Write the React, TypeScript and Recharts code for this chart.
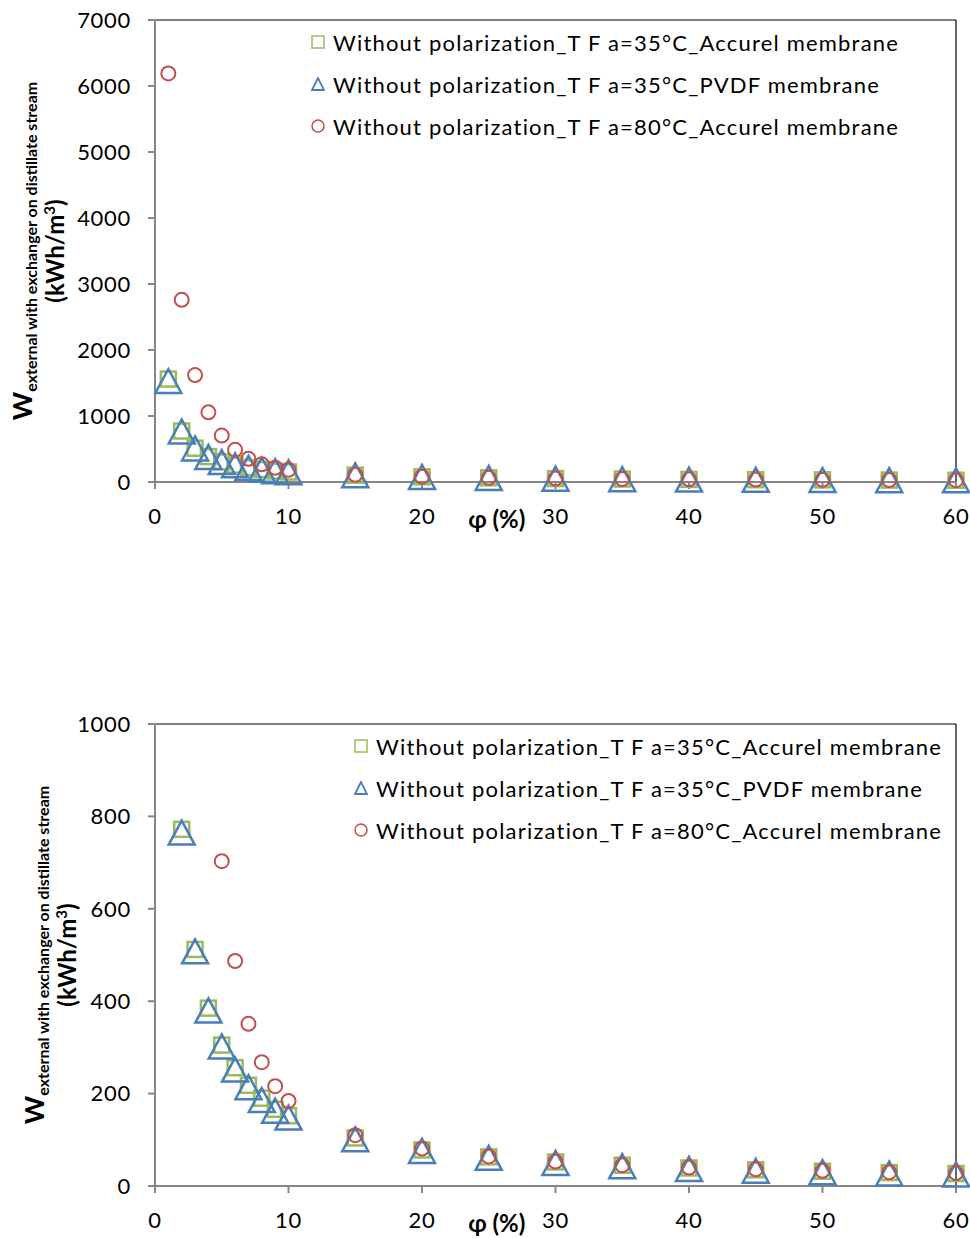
import { Legend, ReferenceLine, Scatter, ScatterChart, XAxis, YAxis } from "recharts";

const phi = [1, 2, 3, 4, 5, 6, 7, 8, 9, 10, 15, 20, 25, 30, 35, 40, 45, 50, 55, 60];
const accurel35 = [1560, 772, 512, 385, 305, 256, 218, 190, 166, 152, 104, 78, 63, 52, 45, 39, 35, 32, 29, 27];
const pvdf35 = [1530, 765, 508, 380, 302, 252, 214, 186, 163, 148, 101, 76, 61, 50, 43, 37, 33, 30, 27, 25];
const accurel80 = [6190, 2760, 1620, 1055, 703, 487, 351, 268, 216, 184, 110, 81, 64, 53, 45, 40, 36, 33, 30, 28];

const xTicks = [0, 10, 20, 30, 40, 50, 60];
const yTicksTop = [0, 1000, 2000, 3000, 4000, 5000, 6000, 7000];
const yTicksBottom = [0, 200, 400, 600, 800, 1000];

const seriesNames = [
  "Without polarization_T F a=35°C_Accurel membrane",
  "Without polarization_T F a=35°C_PVDF membrane",
  "Without polarization_T F a=80°C_Accurel membrane",
];

const FONT = "Lato, 'Open Sans', sans-serif";
const GREEN = "#9BBB59";
const BLUE = "#4A7EBB";
const RED = "#C0504D";
const AXIS = "#868686";

const toPoints = (vals: number[], max: number) =>
  phi.map((x, i) => ({ x, y: vals[i] })).filter((d) => d.y <= max);

const Square = (p: any) => (
  <rect x={p.cx - 7.5} y={p.cy - 7.5} width={15} height={15} fill="none" stroke={GREEN} strokeWidth={2.5} />
);
const Triangle = (p: any) => (
  <polygon
    points={`${p.cx},${p.cy - 12} ${p.cx - 13},${p.cy + 12} ${p.cx + 13},${p.cy + 12}`}
    fill="none"
    stroke={BLUE}
    strokeWidth={2.5}
  />
);
const Circle = (p: any) => <circle cx={p.cx} cy={p.cy} r={7} fill="none" stroke={RED} strokeWidth={2} />;

function LegendBox() {
  const icons = [
    <rect x={1} y={1} width={12} height={12} fill="none" stroke={GREEN} strokeWidth={1.5} />,
    <polygon points="7,1 1,13 13,13" fill="none" stroke={BLUE} strokeWidth={1.8} />,
    <circle cx={7} cy={7} r={6} fill="none" stroke={RED} strokeWidth={1.5} />,
  ];
  return (
    <div style={{ fontFamily: FONT, fontSize: 22, letterSpacing: 1.2, color: "#000" }}>
      {seriesNames.map((name, i) => (
        <div key={name} style={{ height: 42, display: "flex", alignItems: "center", whiteSpace: "nowrap" }}>
          <svg width={14} height={14} style={{ marginRight: 8 }}>
            {icons[i]}
          </svg>
          <span>{name}</span>
        </div>
      ))}
    </div>
  );
}

function YLabel({ viewBox, x1, x2 }: any) {
  const cy = viewBox.y + viewBox.height / 2;
  return (
    <g fontFamily={FONT} fontWeight="bold" fill="#000">
      <text x={x1} y={cy} textAnchor="middle" transform={`rotate(-90, ${x1}, ${cy})`}>
        <tspan fontSize={27}>W</tspan>
        <tspan fontSize={16} dy={5}>
          external with exchanger on distillate stream
        </tspan>
      </text>
      <text x={x2} y={cy} textAnchor="middle" fontSize={24} transform={`rotate(-90, ${x2}, ${cy})`}>
        <tspan>(kWh/m</tspan>
        <tspan fontSize={15} dy={-9}>
          3
        </tspan>
        <tspan dy={9}>)</tspan>
      </text>
    </g>
  );
}

function XLabel({ viewBox }: any) {
  const x = viewBox.x + (viewBox.width * 25.6) / 60;
  return (
    <text x={x} y={viewBox.y + 46} textAnchor="middle" fontFamily={FONT} fontWeight="bold" fontSize={24} fill="#000">
      φ (%)
    </text>
  );
}

function Panel({
  yMax,
  yTicks,
  top,
  bottom,
  legendTop,
  legendLeft,
  labelX1,
  labelX2,
}: {
  yMax: number;
  yTicks: number[];
  top: number;
  bottom: number;
  legendTop: number;
  legendLeft: number;
  labelX1: number;
  labelX2: number;
}) {
  const tick = { fontFamily: FONT, fontSize: 22, letterSpacing: 0.7, fill: "#000" };
  return (
    <ScatterChart width={970} height={619} margin={{ top, right: 14, bottom, left: 55 }}>
      <XAxis
        type="number"
        dataKey="x"
        domain={[0, 60]}
        ticks={xTicks}
        allowDecimals={false}
        height={40}
        tick={tick}
        tickSize={7}
        tickMargin={19}
        stroke={AXIS}
        strokeWidth={2}
        label={{ content: (props: any) => <XLabel {...props} /> }}
      />
      <YAxis
        type="number"
        dataKey="y"
        domain={[0, yMax]}
        ticks={yTicks}
        width={100}
        tick={tick}
        tickSize={7}
        tickMargin={17}
        stroke={AXIS}
        strokeWidth={2}
        label={{ content: (props: any) => <YLabel {...props} x1={labelX1} x2={labelX2} /> }}
      />
      <ReferenceLine y={yMax} stroke="#000" strokeWidth={1.2} />
      <ReferenceLine x={60} stroke="#000" strokeWidth={1.2} />
      <Scatter name={seriesNames[0]} data={toPoints(accurel35, yMax)} shape={Square} isAnimationActive={false} />
      <Scatter name={seriesNames[1]} data={toPoints(pvdf35, yMax)} shape={Triangle} isAnimationActive={false} />
      <Scatter name={seriesNames[2]} data={toPoints(accurel80, yMax)} shape={Circle} isAnimationActive={false} />
      <Legend
        layout="vertical"
        align="center"
        verticalAlign="middle"
        content={() => <LegendBox />}
        wrapperStyle={{ left: legendLeft, top: legendTop, width: "auto" }}
      />
    </ScatterChart>
  );
}

export default function App() {
  return (
    <div style={{ position: "absolute", left: 0, top: 0, width: 970, height: 1238, background: "#fff" }}>
      <Panel
        yMax={7000}
        yTicks={yTicksTop}
        top={20}
        bottom={97}
        legendTop={21}
        legendLeft={311}
        labelX1={32}
        labelX2={64}
      />
      <Panel
        yMax={1000}
        yTicks={yTicksBottom}
        top={105}
        bottom={12}
        legendTop={106}
        legendLeft={354}
        labelX1={44}
        labelX2={76}
      />
    </div>
  );
}
